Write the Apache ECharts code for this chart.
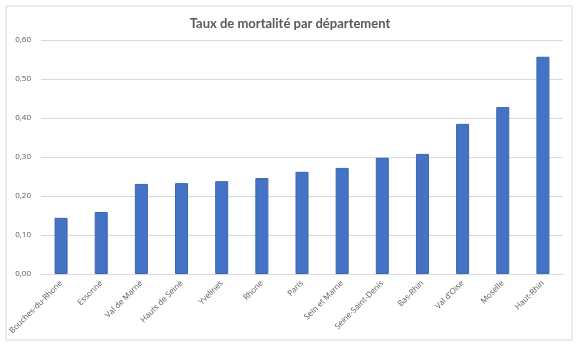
<!DOCTYPE html>
<html><head><meta charset="utf-8">
<script src="https://cdn.jsdelivr.net/npm/echarts@6/dist/echarts.min.js"></script>
<style>html,body{margin:0;padding:0;background:#fff}#c{width:580px;height:347px}</style>
</head><body><div id="c"></div>
<script>
const categories = ["Bouches-du-Rhone","Essonne","Val de Marne","Hauts de Seine","Yvelines","Rhone","Paris","Sein et Marne","Seine-Saint-Denis","Bas-Rhin","Val d'Oise","Moselle","Haut-Rhin"];
const values = [0.144,0.159,0.231,0.233,0.238,0.246,0.262,0.272,0.298,0.308,0.385,0.428,0.557];
const yTicks = [0,0.1,0.2,0.3,0.4,0.5,0.6];
const chart = echarts.init(document.getElementById('c'));
chart.setOption({
  backgroundColor:'#fff',
  animation:false,
  graphic:[{type:'rect',shape:{x:6,y:6,width:566,height:334},style:{fill:'none',stroke:'#d9d9d9',lineWidth:1}}],
  title:{text:'Taux de mortalité par département',left:'center',top:12,textStyle:{fontFamily:'Lato',fontSize:13,fontWeight:'bold',color:'#595959'}},
  grid:{left:41,right:17,top:40,bottom:73},
  xAxis:{type:'category',data:categories,axisTick:{show:false},axisLine:{lineStyle:{color:'#d9d9d9'}},
    axisLabel:{rotate:45,interval:0,fontSize:8,color:'#595959',fontFamily:'Open Sans',margin:8}},
  yAxis:{type:'value',min:0,max:0.6,interval:0.1,axisLine:{show:false},axisTick:{show:false},
    splitLine:{lineStyle:{color:'#d9d9d9'}},
    axisLabel:{fontSize:8,color:'#595959',fontFamily:'Open Sans',margin:10,formatter:v=>v.toFixed(2).replace('.',',')}},
  series:[{type:'bar',data:values,barWidth:13,itemStyle:{color:'#4472c4',borderColor:'#3a65b0',borderWidth:1}}]
});
</script></body></html>
